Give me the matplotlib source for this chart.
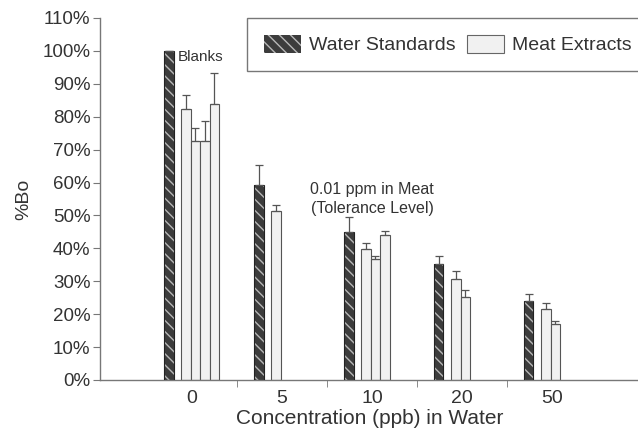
import numpy as np
import matplotlib.pyplot as plt
from matplotlib.patches import Patch
from matplotlib.ticker import PercentFormatter, FixedLocator

plt.rcParams['font.family'] = ['Liberation Sans', 'DejaVu Sans']

categories = ['0', '5', '10', '20', '50']
water = [100.0, 59.3, 45.0, 35.1, 24.1]
water_err = [0.0, 6.1, 4.6, 2.5, 1.9]
meat = [
    [82.4, 72.7, 72.7, 83.7],
    [51.3],
    [39.8, 36.9, 44.2],
    [30.6, 25.1],
    [21.6, 17.0],
]
meat_err = [
    [4.2, 3.9, 6.1, 9.5],
    [1.9],
    [1.7, 0.7, 1.2],
    [2.6, 2.3],
    [1.9, 0.8],
]

ink = '#333333'
dark = '#3c3c3c'
stripe = '#b8b8b8'
light = '#f1f1f1'

fig = plt.figure(figsize=(6.38, 4.30), dpi=100)
ax = fig.add_axes([0.157, 0.1163, 0.846, 0.842])

w = 0.105
pos = np.arange(len(categories))

# water standards: hatched dark bars
wx = pos - 0.258
ax.bar(wx, water, width=w, color=dark, edgecolor=stripe, hatch='\\\\\\', linewidth=0, zorder=2)
ax.bar(wx, water, width=w, fill=False, edgecolor='#222222', linewidth=0.8, zorder=3)
ax.errorbar(wx, water, yerr=[np.zeros(len(water)), water_err], fmt='none',
            ecolor='#555555', elinewidth=0.9, capsize=3, capthick=0.9, zorder=4)

# meat extracts: light bars, one per extract
for i, (vals, errs) in enumerate(zip(meat, meat_err)):
    mx = pos[i] - 0.12 + w / 2 + w * np.arange(len(vals))
    ax.bar(mx, vals, width=w, color=light, edgecolor='#555555', linewidth=0.8, zorder=2)
    ax.errorbar(mx, vals, yerr=[np.zeros(len(vals)), errs], fmt='none',
                ecolor='#555555', elinewidth=0.9, capsize=3, capthick=0.9, zorder=4)

ax.set_xlim(-1.022, 4.978)
ax.set_ylim(0, 110)
ax.set_yticks(np.arange(0, 111, 10))
ax.yaxis.set_major_formatter(PercentFormatter(decimals=0))
ax.set_xticks(pos)
ax.set_xticklabels(categories)
ax.xaxis.set_minor_locator(FixedLocator(pos[:-1] + 0.5))
ax.tick_params(axis='x', which='major', length=0, pad=7, labelsize=14, labelcolor=ink)
ax.tick_params(axis='x', which='minor', length=5, direction='out', color='#777777')
ax.tick_params(axis='y', length=5, direction='out', color='#777777', labelsize=13.5,
               labelcolor=ink, pad=2)

for s in ['top', 'right']:
    ax.spines[s].set_visible(False)
for s in ['left', 'bottom']:
    ax.spines[s].set_color('#777777')
    ax.spines[s].set_linewidth(1.0)

ax.set_xlabel('Concentration (ppb) in Water', fontsize=15, color=ink, labelpad=2)
ax.set_ylabel('%Bo', fontsize=14, color=ink, labelpad=7)

ax.text(-0.155, 98, 'Blanks', fontsize=11, color=ink, va='center', ha='left')
ax.text(2.0, 55.0, '0.01 ppm in Meat\n(Tolerance Level)', fontsize=11.5, color=ink,
        ha='center', va='center', linespacing=1.3)

handles = [
    Patch(facecolor=dark, edgecolor=stripe, hatch='\\\\\\', linewidth=0),
    Patch(facecolor=light, edgecolor='#666666', linewidth=0.8),
]
leg = fig.legend(handles, ['Water Standards', 'Meat Extracts'], ncol=2,
                 loc='upper left', bbox_to_anchor=(247 / 638, 1 - 18 / 430),
                 fontsize=14, frameon=True, fancybox=False, framealpha=1,
                 edgecolor='#777777', handlelength=1.95, handleheight=1.05,
                 handletextpad=0.4, columnspacing=0.55, borderpad=0.85,
                 borderaxespad=0)
for t in leg.get_texts():
    t.set_color(ink)

fig.savefig('out.png', dpi=100)
